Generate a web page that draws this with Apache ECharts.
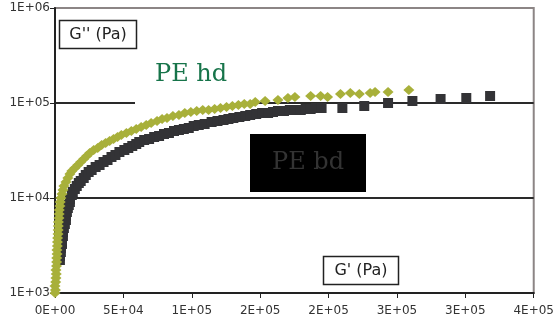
<!DOCTYPE html>
<html>
<head>
<meta charset="utf-8">
<script src="https://cdn.jsdelivr.net/npm/echarts@6/dist/echarts.min.js"></script>
<style>
html,body{margin:0;padding:0;background:#fff;}
#chart{width:557px;height:324px;}
</style>
</head>
<body>
<div id="chart"></div>
<script>
// G' (Pa) and G'' (Pa) for PE hd (green diamonds)
const hdGp = [0,300,0,500,700,900,700,1100,1200,1300,1500,1400,1700,1800,1900,2200,2300,2400,2500,2900,3000,3100,3600,3800,4300,5100,5800,6500,8000,9400,10900,12300,14500,16700,18800,21000,23200,25400,28300,31200,34100,37000,39900,42800,45700,48500,52200,55800,59400,63000,66700,70300,74600,78300,81900,86200,90600,94900,99300,103600,108000,112300,116700,121000,125400,129700,134100,138400,142700,146400,153600,163000,170300,175400,186900,194200,199300,208700,215900,222500,230400,234000,243500,258700];
const hdGpp = [1000,1075,1185,1305,1438,1585,1746,1924,2120,2336,2573,2835,3124,3442,3792,4179,4604,5073,5589,6158,6785,7475,8237,9076,10000,11018,12140,13375,14737,16237,17890,19240,20700,22260,23930,25730,27680,29770,32010,33600,36140,37930,39810,41790,43860,46040,48330,50730,53250,55890,58670,61580,64640,67850,69510,72970,74760,78470,80390,82370,84380,84380,86460,88590,90770,93000,95270,97610,97610,102450,104970,107540,112880,115650,118480,118480,115650,124360,127410,124360,127410,130540,130540,137020];
// G' (Pa) and G'' (Pa) for PE bd (dark squares)
const bdGp = [3600,3600,4300,4300,5100,5100,5800,5800,6500,7200,8000,8000,8700,9400,10100,10900,10900,12300,13000,14500,15900,17400,18800,21000,22500,24600,26800,29700,32600,35500,38400,41300,44200,47100,50700,53600,56500,59400,61600,65200,68800,72500,76100,79700,83300,87000,90600,94200,97800,101400,105100,109400,114500,118800,123200,126800,130400,134800,139100,142700,147100,151400,155800,159400,163000,167400,171700,175400,179700,183300,186900,190600,194900,210100,226100,243500,261300,281900,300700,318100];
const bdGpp = [2225,2453,2702,2976,3280,3613,3981,4386,4833,5325,5867,6463,7122,7847,8438,9076,9775,10755,11565,12436,13375,14380,15100,16237,17470,18780,19710,21200,22260,23930,25120,27020,28350,30500,32010,33600,35270,37020,38860,40780,41790,43860,44940,47180,48330,50730,51970,53250,54560,57280,58670,60100,63100,64640,66230,67850,69510,71220,72970,74760,76610,78470,78470,80390,82370,82370,84380,84380,84380,86460,86460,88590,88590,88590,93000,100000,104970,110180,112880,118480];

const xTickLabels = ['0E+00','5E+04','1E+05','2E+05','2E+05','3E+05','3E+05','4E+05'];
const yTickLabels = ['1E+03','1E+04','1E+05','1E+06'];
const seriesNames = ['PE hd','PE bd'];
const axisNames = ["G'' (Pa)", "G' (Pa)"];

const hdData = hdGp.map((v,i)=>[v,hdGpp[i]]);
const bdData = bdGp.map((v,i)=>[v,bdGpp[i]]);

const chart = echarts.init(document.getElementById('chart'), null, {renderer:'canvas'});
const font = 'DejaVu Sans';
chart.setOption({
  animation:false,
  backgroundColor:'#fff',
  grid:{left:55,right:19,top:8,bottom:31,show:true,borderColor:'#8c8585',borderWidth:2,backgroundColor:'transparent'},
  xAxis:{
    type:'value',min:0,max:350000,interval:50000,
    axisLine:{show:true,onZero:false,lineStyle:{color:'#222',width:2}},
    axisTick:{show:true,inside:false,length:5,lineStyle:{color:'#222',width:1}},
    axisLabel:{margin:12,fontFamily:font,fontSize:12,color:'#333',
      formatter:(v)=>xTickLabels[Math.round(v/50000)]},
    splitLine:{show:false}
  },
  yAxis:{
    type:'log',logBase:10,min:1000,max:1000000,
    axisLine:{show:true,onZero:false,lineStyle:{color:'#222',width:2}},
    axisTick:{show:true,inside:false,length:5,lineStyle:{color:'#222',width:1}},
    axisLabel:{margin:5,fontFamily:font,fontSize:12,color:'#333',
      formatter:(v)=>yTickLabels[Math.round(Math.log10(v))-3]},
    splitLine:{show:true,showMinLine:false,showMaxLine:false,lineStyle:{color:'#2a2a2a',width:2}},
    minorTick:{show:false}
  },
  graphic:[
    {type:'rect',z:1,shape:{x:135,y:58,width:117,height:48},style:{fill:'#fff'}},
    {type:'text',z:1,style:{text:seriesNames[0],x:155,y:63,font:'24px "DejaVu Serif"',fill:'#17744a'}},
    {type:'rect',z:1,shape:{x:250,y:134,width:116,height:58},style:{fill:'#000'}},
    {type:'text',z:1,style:{text:seriesNames[1],x:308,y:163,align:'center',verticalAlign:'middle',font:'24px "DejaVu Serif"',fill:'#333'}},
    {type:'rect',z:1,shape:{x:59.5,y:20.5,width:77,height:28},style:{fill:'#fff',stroke:'#222',lineWidth:1.5}},
    {type:'text',z:1,style:{text:axisNames[0],x:98,y:35,align:'center',verticalAlign:'middle',font:'16px "DejaVu Sans"',fill:'#222'}},
    {type:'rect',z:1,shape:{x:323.5,y:256.5,width:75,height:28},style:{fill:'#fff',stroke:'#222',lineWidth:1.5}},
    {type:'text',z:1,style:{text:axisNames[1],x:361,y:271,align:'center',verticalAlign:'middle',font:'16px "DejaVu Sans"',fill:'#222'}}
  ],
  series:[
    {name:seriesNames[1],type:'scatter',data:bdData,symbol:'rect',symbolSize:[10,10],
      itemStyle:{color:'#333336',opacity:1},z:3},
    {name:seriesNames[0],type:'scatter',data:hdData,symbol:'diamond',symbolSize:[11,10],
      itemStyle:{color:'#a8b03a',opacity:1},z:4}
  ]
});
</script>
</body>
</html>
